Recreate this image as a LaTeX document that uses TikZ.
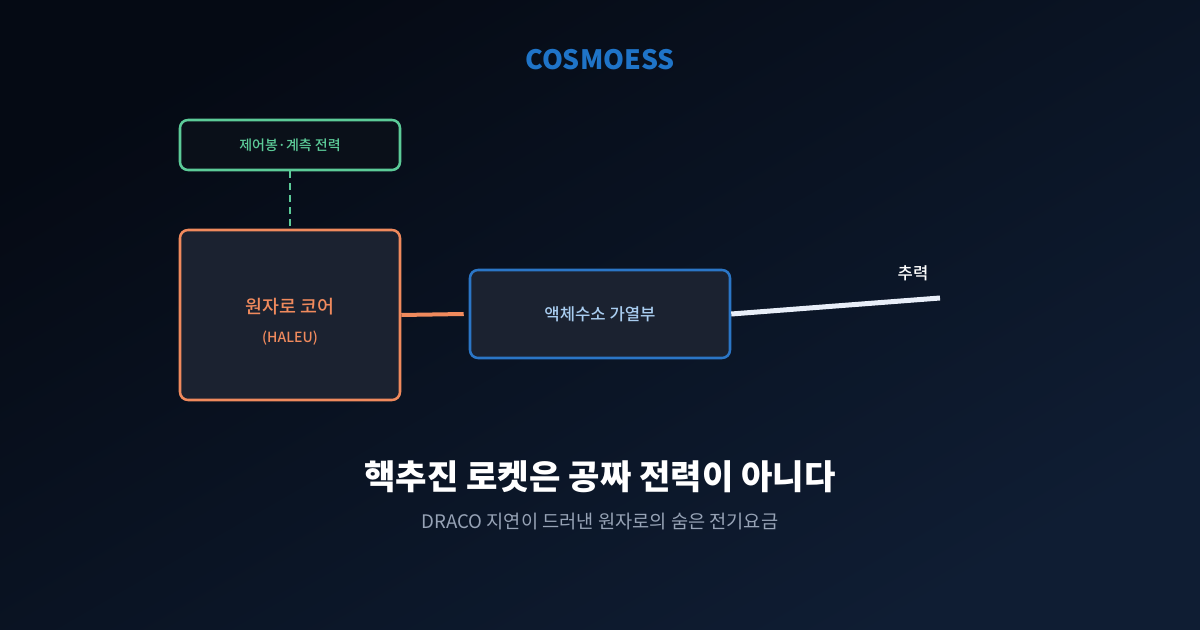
\documentclass[tikz,border=0pt]{standalone}
\usepackage{fontspec}
\setmainfont{Noto Sans CJK KR}
\newfontfamily\krmedium{Noto Sans CJK KR Medium}
\usetikzlibrary{positioning}

\definecolor{bgtl}{HTML}{050A14}
\definecolor{bgbr}{HTML}{0F1D33}
\definecolor{ctrlfill}{HTML}{0A1019}
\definecolor{boxfill}{HTML}{1B2230}
\definecolor{ctrlgreen}{HTML}{5CCB98}
\definecolor{coreorange}{HTML}{F08A5D}
\definecolor{heatblue}{HTML}{2B76C6}
\definecolor{heattext}{HTML}{A9CDF0}
\definecolor{brandblue}{HTML}{1F74C8}
\definecolor{thrustwhite}{HTML}{E8EEF8}
\definecolor{subgray}{HTML}{97A3B6}

\tikzset{
	px/.style={x=0.75pt,y=-0.75pt},
	block/.style={draw,rounded corners=6pt,line width=1.9pt,inner sep=0pt},
	ctrlbox/.style={block,draw=ctrlgreen,fill=ctrlfill,minimum width=165pt,minimum height=37.5pt,
		text=ctrlgreen,font=\krmedium\fontsize{10.5pt}{12pt}\selectfont},
	corebox/.style={block,draw=coreorange,fill=boxfill,minimum width=165pt,minimum height=127.5pt},
	heatbox/.style={block,draw=heatblue,fill=boxfill,minimum width=195pt,minimum height=66pt,
		text=heattext,font=\krmedium\fontsize{12.5pt}{14pt}\selectfont},
}

\begin{document}
\begin{tikzpicture}[px]
\shade[top color=bgtl,bottom color=bgbr,shading angle=30] (0,0) rectangle (1200,630);
\useasboundingbox (0,0) rectangle (1200,630);

% brand
\node[text=brandblue,font=\bfseries\fontsize{20pt}{24pt}\selectfont] (brand) at (600,60) {COSMOESS};

% boxes
\node[ctrlbox] (ctrl) at (290,145) {제어봉·계측 전력};
\node[corebox] (core) at (290,315) {};
\node[text=coreorange,font=\krmedium\fontsize{13.8pt}{16pt}\selectfont] (coretitle) at (290,307) {원자로 코어};
\node[text=coreorange,font=\krmedium\fontsize{10.5pt}{12pt}\selectfont] (coresub) at (290,338) {(HALEU)};
\node[heatbox] (heat) at (600,314) {액체수소 가열부};

% links
\draw[ctrlgreen,line width=1.4pt,dash pattern=on 5pt off 4pt] (ctrl.south) -- (core.north);
\draw[coreorange,line width=3pt] (core.east) -- ([xshift=-3.75pt]heat.west);
\coordinate (thrustend) at (940,298);
\draw[thrustwhite,line width=3.75pt] (heat.east) -- (thrustend);
\node[text=white,font=\krmedium\fontsize{12.5pt}{14pt}\selectfont] (thrust) at (913,273) {추력};

% headline
\node[text=white,font=\bfseries\fontsize{25.6pt}{30pt}\selectfont] (headline) at (600,477) {핵추진 로켓은 공짜 전력이 아니다};
\node[text=subgray,font=\fontsize{14pt}{16pt}\selectfont] (subline) at (600,522) {DRACO 지연이 드러낸 원자로의 숨은 전기요금};

\end{tikzpicture}
\end{document}
